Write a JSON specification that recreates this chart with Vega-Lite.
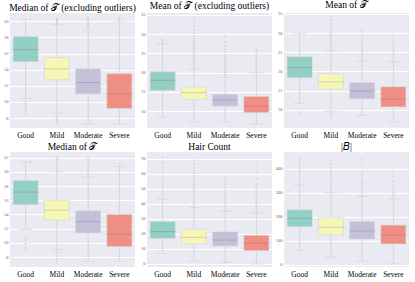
{
"$schema": "https://vega.github.io/schema/vega-lite/v6.json",
"padding": {"left": 3, "top": 0, "right": 2, "bottom": 0},
"bounds": "flush",
"spacing": {"row": 24, "column": 12},
"columns": 3,
"datasets": {
"stats": [
{"p":"p1","g":"Good","lo":10.4,"q1":15.0,"med":16.5,"q3":18.1,"hi":20.3},
{"p":"p1","g":"Mild","lo":8.6,"q1":12.75,"med":14.1,"q3":15.5,"hi":19.6},
{"p":"p1","g":"Moderate","lo":7.3,"q1":11.0,"med":12.4,"q3":14.1,"hi":18.7},
{"p":"p1","g":"Severe","lo":7.3,"q1":9.2,"med":11.0,"q3":13.5,"hi":19.9},
{"p":"p2","g":"Good","lo":8.5,"q1":15.4,"med":18.0,"q3":20.2,"hi":27.5},
{"p":"p2","g":"Mild","lo":7.2,"q1":13.05,"med":14.8,"q3":16.25,"hi":20.9},
{"p":"p2","g":"Moderate","lo":7.2,"q1":11.3,"med":12.9,"q3":14.3,"hi":18.8},
{"p":"p2","g":"Severe","lo":6.7,"q1":9.6,"med":11.3,"q3":13.8,"hi":20.0},
{"p":"p3","g":"Good","lo":11.7,"q1":18.4,"med":21.0,"q3":23.8,"hi":29.9},
{"p":"p3","g":"Mild","lo":9.7,"q1":15.4,"med":17.3,"q3":19.4,"hi":25.3},
{"p":"p3","g":"Moderate","lo":8.6,"q1":12.9,"med":14.9,"q3":17.1,"hi":22.7},
{"p":"p3","g":"Severe","lo":6.9,"q1":10.8,"med":12.8,"q3":16.0,"hi":22.5},
{"p":"p4","g":"Good","lo":11.9,"q1":15.4,"med":17.15,"q3":18.75,"hi":21.4},
{"p":"p4","g":"Mild","lo":9.0,"q1":13.2,"med":14.6,"q3":16.0,"hi":20.05},
{"p":"p4","g":"Moderate","lo":7.4,"q1":11.4,"med":13.0,"q3":14.5,"hi":19.3},
{"p":"p4","g":"Severe","lo":7.4,"q1":9.5,"med":11.2,"q3":14.0,"hi":20.75},
{"p":"p5","g":"Good","lo":7.1,"q1":17.1,"med":21.5,"q3":28.1,"hi":43},
{"p":"p5","g":"Mild","lo":2.0,"q1":13.3,"med":17.7,"q3":23.0,"hi":37.5},
{"p":"p5","g":"Moderate","lo":1.1,"q1":12.0,"med":15.9,"q3":21.3,"hi":35},
{"p":"p5","g":"Severe","lo":0,"q1":8.9,"med":13.8,"q3":19.0,"hi":34},
{"p":"p6","g":"Good","lo":61,"q1":159,"med":194,"q3":229,"hi":333},
{"p":"p6","g":"Mild","lo":31,"q1":124,"med":156,"q3":196,"hi":300},
{"p":"p6","g":"Moderate","lo":15,"q1":107,"med":141,"q3":180,"hi":285},
{"p":"p6","g":"Severe","lo":3,"q1":86.5,"med":124,"q3":165,"hi":273}
],
"out": [
{"p":"p1","g":"Good","v":10.0},{"p":"p1","g":"Good","v":9.7},{"p":"p1","g":"Good","v":9.4},{"p":"p1","g":"Good","v":9.1},{"p":"p1","g":"Good","v":8.8},{"p":"p1","g":"Good","v":8.5},
{"p":"p1","g":"Mild","v":19.8},{"p":"p1","g":"Mild","v":19.9},{"p":"p1","g":"Mild","v":20.0},{"p":"p1","g":"Mild","v":20.1},{"p":"p1","g":"Mild","v":20.2},{"p":"p1","g":"Mild","v":20.3},{"p":"p1","g":"Mild","v":20.4},
{"p":"p1","g":"Mild","v":8.4},{"p":"p1","g":"Mild","v":8.2},{"p":"p1","g":"Mild","v":8.0},{"p":"p1","g":"Mild","v":7.8},{"p":"p1","g":"Mild","v":7.6},{"p":"p1","g":"Mild","v":7.4},
{"p":"p1","g":"Moderate","v":19.0},{"p":"p1","g":"Moderate","v":19.2},{"p":"p1","g":"Moderate","v":19.4},{"p":"p1","g":"Moderate","v":19.6},{"p":"p1","g":"Moderate","v":19.8},{"p":"p1","g":"Moderate","v":20.0},{"p":"p1","g":"Moderate","v":20.2},{"p":"p1","g":"Moderate","v":20.4},
{"p":"p1","g":"Severe","v":20.1},{"p":"p1","g":"Severe","v":20.3},{"p":"p1","g":"Severe","v":20.4},
{"p":"p2","g":"Good","v":27.9},{"p":"p2","g":"Good","v":28.3},{"p":"p2","g":"Good","v":28.7},
{"p":"p2","g":"Mild","v":21.3},{"p":"p2","g":"Mild","v":21.8},{"p":"p2","g":"Mild","v":22.3},{"p":"p2","g":"Mild","v":22.8},{"p":"p2","g":"Mild","v":23.3},{"p":"p2","g":"Mild","v":23.8},{"p":"p2","g":"Mild","v":24.3},{"p":"p2","g":"Mild","v":24.8},{"p":"p2","g":"Mild","v":25.3},{"p":"p2","g":"Mild","v":25.8},{"p":"p2","g":"Mild","v":26.3},{"p":"p2","g":"Mild","v":26.8},{"p":"p2","g":"Mild","v":27.3},{"p":"p2","g":"Mild","v":27.8},{"p":"p2","g":"Mild","v":28.3},{"p":"p2","g":"Mild","v":28.8},{"p":"p2","g":"Mild","v":29.5},{"p":"p2","g":"Mild","v":30.3},{"p":"p2","g":"Mild","v":31.1},{"p":"p2","g":"Mild","v":32.0},{"p":"p2","g":"Mild","v":33.0},{"p":"p2","g":"Mild","v":34.3},
{"p":"p2","g":"Moderate","v":19.2},{"p":"p2","g":"Moderate","v":19.6},{"p":"p2","g":"Moderate","v":20.0},{"p":"p2","g":"Moderate","v":20.5},{"p":"p2","g":"Moderate","v":21.0},{"p":"p2","g":"Moderate","v":21.5},{"p":"p2","g":"Moderate","v":22.0},{"p":"p2","g":"Moderate","v":22.5},{"p":"p2","g":"Moderate","v":23.0},{"p":"p2","g":"Moderate","v":23.5},{"p":"p2","g":"Moderate","v":24.0},{"p":"p2","g":"Moderate","v":24.6},{"p":"p2","g":"Moderate","v":25.3},{"p":"p2","g":"Moderate","v":26.0},{"p":"p2","g":"Moderate","v":27.0},{"p":"p2","g":"Moderate","v":28.0},{"p":"p2","g":"Moderate","v":29.3},
{"p":"p2","g":"Severe","v":20.5},{"p":"p2","g":"Severe","v":21.0},{"p":"p2","g":"Severe","v":21.5},{"p":"p2","g":"Severe","v":22.0},{"p":"p2","g":"Severe","v":22.5},{"p":"p2","g":"Severe","v":23.0},{"p":"p2","g":"Severe","v":23.6},{"p":"p2","g":"Severe","v":24.2},{"p":"p2","g":"Severe","v":25.0},{"p":"p2","g":"Severe","v":25.8},
{"p":"p3","g":"Good","v":9.3},
{"p":"p3","g":"Mild","v":25.8},{"p":"p3","g":"Mild","v":26.3},{"p":"p3","g":"Mild","v":26.8},{"p":"p3","g":"Mild","v":27.3},{"p":"p3","g":"Mild","v":27.8},{"p":"p3","g":"Mild","v":28.3},{"p":"p3","g":"Mild","v":28.8},{"p":"p3","g":"Mild","v":29.3},{"p":"p3","g":"Mild","v":29.8},{"p":"p3","g":"Mild","v":30.4},{"p":"p3","g":"Mild","v":31.0},{"p":"p3","g":"Mild","v":31.7},{"p":"p3","g":"Mild","v":32.5},{"p":"p3","g":"Mild","v":33.3},{"p":"p3","g":"Mild","v":34.2},{"p":"p3","g":"Mild","v":9.2},{"p":"p3","g":"Mild","v":8.6},{"p":"p3","g":"Mild","v":8.0},
{"p":"p3","g":"Moderate","v":23.2},{"p":"p3","g":"Moderate","v":23.7},{"p":"p3","g":"Moderate","v":24.2},{"p":"p3","g":"Moderate","v":24.7},{"p":"p3","g":"Moderate","v":25.2},{"p":"p3","g":"Moderate","v":25.7},{"p":"p3","g":"Moderate","v":26.3},{"p":"p3","g":"Moderate","v":27.0},{"p":"p3","g":"Moderate","v":27.8},{"p":"p3","g":"Moderate","v":28.6},{"p":"p3","g":"Moderate","v":29.5},{"p":"p3","g":"Moderate","v":30.7},
{"p":"p3","g":"Severe","v":23.0},{"p":"p3","g":"Severe","v":23.5},{"p":"p3","g":"Severe","v":24.0},{"p":"p3","g":"Severe","v":24.6},{"p":"p3","g":"Severe","v":25.2},{"p":"p3","g":"Severe","v":25.8},{"p":"p3","g":"Severe","v":26.5},{"p":"p3","g":"Severe","v":27.3},{"p":"p3","g":"Severe","v":28.2},{"p":"p3","g":"Severe","v":29.2},
{"p":"p4","g":"Good","v":10.9},{"p":"p4","g":"Good","v":10.4},{"p":"p4","g":"Good","v":9.9},{"p":"p4","g":"Good","v":9.4},{"p":"p4","g":"Good","v":9.0},
{"p":"p4","g":"Mild","v":20.3},{"p":"p4","g":"Mild","v":20.6},{"p":"p4","g":"Mild","v":20.9},{"p":"p4","g":"Mild","v":21.2},{"p":"p4","g":"Mild","v":21.5},{"p":"p4","g":"Mild","v":21.8},{"p":"p4","g":"Mild","v":22.0},{"p":"p4","g":"Mild","v":8.6},{"p":"p4","g":"Mild","v":8.2},{"p":"p4","g":"Mild","v":7.8},{"p":"p4","g":"Mild","v":7.4},
{"p":"p4","g":"Moderate","v":19.6},{"p":"p4","g":"Moderate","v":19.9},{"p":"p4","g":"Moderate","v":20.2},{"p":"p4","g":"Moderate","v":20.5},{"p":"p4","g":"Moderate","v":20.8},{"p":"p4","g":"Moderate","v":21.1},{"p":"p4","g":"Moderate","v":21.4},{"p":"p4","g":"Moderate","v":21.8},
{"p":"p4","g":"Severe","v":21.1},
{"p":"p5","g":"Good","v":44},{"p":"p5","g":"Good","v":45.5},{"p":"p5","g":"Good","v":47},{"p":"p5","g":"Good","v":48.5},{"p":"p5","g":"Good","v":50},{"p":"p5","g":"Good","v":52},{"p":"p5","g":"Good","v":54},{"p":"p5","g":"Good","v":56},{"p":"p5","g":"Good","v":58},{"p":"p5","g":"Good","v":61},{"p":"p5","g":"Good","v":64},{"p":"p5","g":"Good","v":67},{"p":"p5","g":"Good","v":70.9},
{"p":"p5","g":"Mild","v":38},{"p":"p5","g":"Mild","v":39.5},{"p":"p5","g":"Mild","v":41},{"p":"p5","g":"Mild","v":42.5},{"p":"p5","g":"Mild","v":44},{"p":"p5","g":"Mild","v":45.5},{"p":"p5","g":"Mild","v":47},{"p":"p5","g":"Mild","v":48.5},{"p":"p5","g":"Mild","v":50},{"p":"p5","g":"Mild","v":51.5},{"p":"p5","g":"Mild","v":53},{"p":"p5","g":"Mild","v":54.5},{"p":"p5","g":"Mild","v":56},{"p":"p5","g":"Mild","v":58},{"p":"p5","g":"Mild","v":60},{"p":"p5","g":"Mild","v":62},{"p":"p5","g":"Mild","v":64},{"p":"p5","g":"Mild","v":66},{"p":"p5","g":"Mild","v":69},
{"p":"p5","g":"Moderate","v":35.5},{"p":"p5","g":"Moderate","v":37},{"p":"p5","g":"Moderate","v":38.5},{"p":"p5","g":"Moderate","v":40},{"p":"p5","g":"Moderate","v":41.5},{"p":"p5","g":"Moderate","v":43},{"p":"p5","g":"Moderate","v":44.5},{"p":"p5","g":"Moderate","v":46},{"p":"p5","g":"Moderate","v":47.5},{"p":"p5","g":"Moderate","v":49},{"p":"p5","g":"Moderate","v":51},{"p":"p5","g":"Moderate","v":53},{"p":"p5","g":"Moderate","v":55},{"p":"p5","g":"Moderate","v":57.6},
{"p":"p5","g":"Severe","v":35},{"p":"p5","g":"Severe","v":36.5},{"p":"p5","g":"Severe","v":38},{"p":"p5","g":"Severe","v":39.5},{"p":"p5","g":"Severe","v":41},{"p":"p5","g":"Severe","v":42.5},{"p":"p5","g":"Severe","v":44},{"p":"p5","g":"Severe","v":46},{"p":"p5","g":"Severe","v":48},{"p":"p5","g":"Severe","v":50},{"p":"p5","g":"Severe","v":53},{"p":"p5","g":"Severe","v":57},{"p":"p5","g":"Severe","v":61},{"p":"p5","g":"Severe","v":65.8},
{"p":"p6","g":"Good","v":345},{"p":"p6","g":"Good","v":355},{"p":"p6","g":"Good","v":365},{"p":"p6","g":"Good","v":375},{"p":"p6","g":"Good","v":385},{"p":"p6","g":"Good","v":395},{"p":"p6","g":"Good","v":405},{"p":"p6","g":"Good","v":420},{"p":"p6","g":"Good","v":432},{"p":"p6","g":"Good","v":444},
{"p":"p6","g":"Mild","v":305},{"p":"p6","g":"Mild","v":315},{"p":"p6","g":"Mild","v":325},{"p":"p6","g":"Mild","v":335},{"p":"p6","g":"Mild","v":345},{"p":"p6","g":"Mild","v":355},{"p":"p6","g":"Mild","v":365},{"p":"p6","g":"Mild","v":375},{"p":"p6","g":"Mild","v":385},{"p":"p6","g":"Mild","v":395},{"p":"p6","g":"Mild","v":405},{"p":"p6","g":"Mild","v":420},{"p":"p6","g":"Mild","v":437},
{"p":"p6","g":"Moderate","v":290},{"p":"p6","g":"Moderate","v":300},{"p":"p6","g":"Moderate","v":310},{"p":"p6","g":"Moderate","v":320},{"p":"p6","g":"Moderate","v":330},{"p":"p6","g":"Moderate","v":340},{"p":"p6","g":"Moderate","v":350},{"p":"p6","g":"Moderate","v":360},{"p":"p6","g":"Moderate","v":375},{"p":"p6","g":"Moderate","v":390},{"p":"p6","g":"Moderate","v":410},{"p":"p6","g":"Moderate","v":440},
{"p":"p6","g":"Severe","v":280},{"p":"p6","g":"Severe","v":290},{"p":"p6","g":"Severe","v":300},{"p":"p6","g":"Severe","v":310},{"p":"p6","g":"Severe","v":320},{"p":"p6","g":"Severe","v":335},{"p":"p6","g":"Severe","v":350},{"p":"p6","g":"Severe","v":370},{"p":"p6","g":"Severe","v":389}
]
},
"concat": [
{"title": "Median of 𝒯 (excluding outliers)", "width": 125, "height": 115,
 "layer": [
  {"data": {"name": "stats"}, "transform": [{"filter": "datum.p === 'p1'"}], "mark": {"type": "rule", "color": "#d4d4dc", "strokeWidth": 1},
   "encoding": {"x": {"field": "g", "type": "nominal", "sort": ["Good","Mild","Moderate","Severe"], "scale": {"paddingInner": 0.2, "paddingOuter": 0.1}, "title": null},
    "y": {"field": "lo", "type": "quantitative", "scale": {"domain": [6.76, 21.04], "nice": false, "zero": false}, "axis": {"values": [8,10,12,14,16,18,20], "tickCount": 20}, "title": null}, "y2": {"field": "hi"}}},
  {"data": {"name": "stats"}, "transform": [{"filter": "datum.p === 'p1'"}], "mark": {"type": "tick", "color": "#d4d4dc", "size": 12.5, "thickness": 1},
   "encoding": {"x": {"field": "g", "type": "nominal", "sort": ["Good","Mild","Moderate","Severe"]}, "y": {"field": "lo", "type": "quantitative", "title": null}}},
  {"data": {"name": "stats"}, "transform": [{"filter": "datum.p === 'p1'"}], "mark": {"type": "tick", "color": "#d4d4dc", "size": 12.5, "thickness": 1},
   "encoding": {"x": {"field": "g", "type": "nominal", "sort": ["Good","Mild","Moderate","Severe"]}, "y": {"field": "hi", "type": "quantitative", "title": null}}},
  {"data": {"name": "out"}, "transform": [{"filter": "datum.p === 'p1'"}], "mark": {"type": "point", "filled": true, "shape": "diamond", "size": 6, "color": "#d0d0d8", "opacity": 0.8},
   "encoding": {"x": {"field": "g", "type": "nominal", "sort": ["Good","Mild","Moderate","Severe"]}, "y": {"field": "v", "type": "quantitative", "title": null}}},
  {"data": {"name": "stats"}, "transform": [{"filter": "datum.p === 'p1'"}], "mark": {"type": "bar", "stroke": "#d4d4dc", "strokeWidth": 0.6},
   "encoding": {"x": {"field": "g", "type": "nominal", "sort": ["Good","Mild","Moderate","Severe"]}, "y": {"field": "q1", "type": "quantitative", "title": null}, "y2": {"field": "q3"},
    "fill": {"field": "g", "type": "nominal", "scale": {"domain": ["Good","Mild","Moderate","Severe"], "range": ["#93cfc3","#f6f6b6","#c4c0d8","#ef8f84"]}, "legend": null}}},
  {"data": {"name": "stats"}, "transform": [{"filter": "datum.p === 'p1'"}], "mark": {"type": "tick", "color": "#3a3a4a", "opacity": 0.18, "size": 25, "thickness": 1},
   "encoding": {"x": {"field": "g", "type": "nominal", "sort": ["Good","Mild","Moderate","Severe"]}, "y": {"field": "med", "type": "quantitative", "title": null}}}
 ]},
{"title": "Mean of 𝒯 (excluding outliers)", "width": 125, "height": 115,
 "layer": [
  {"data": {"name": "stats"}, "transform": [{"filter": "datum.p === 'p2'"}], "mark": {"type": "rule", "color": "#d4d4dc", "strokeWidth": 1},
   "encoding": {"x": {"field": "g", "type": "nominal", "sort": ["Good","Mild","Moderate","Severe"], "scale": {"paddingInner": 0.2, "paddingOuter": 0.1}, "title": null},
    "y": {"field": "lo", "type": "quantitative", "scale": {"domain": [5.6, 35.5], "nice": false, "zero": false}, "axis": {"values": [10,15,20,25,30,35], "tickCount": 20}, "title": null}, "y2": {"field": "hi"}}},
  {"data": {"name": "stats"}, "transform": [{"filter": "datum.p === 'p2'"}], "mark": {"type": "tick", "color": "#d4d4dc", "size": 12.5, "thickness": 1},
   "encoding": {"x": {"field": "g", "type": "nominal", "sort": ["Good","Mild","Moderate","Severe"]}, "y": {"field": "lo", "type": "quantitative", "title": null}}},
  {"data": {"name": "stats"}, "transform": [{"filter": "datum.p === 'p2'"}], "mark": {"type": "tick", "color": "#d4d4dc", "size": 12.5, "thickness": 1},
   "encoding": {"x": {"field": "g", "type": "nominal", "sort": ["Good","Mild","Moderate","Severe"]}, "y": {"field": "hi", "type": "quantitative", "title": null}}},
  {"data": {"name": "out"}, "transform": [{"filter": "datum.p === 'p2'"}], "mark": {"type": "point", "filled": true, "shape": "diamond", "size": 6, "color": "#d0d0d8", "opacity": 0.8},
   "encoding": {"x": {"field": "g", "type": "nominal", "sort": ["Good","Mild","Moderate","Severe"]}, "y": {"field": "v", "type": "quantitative", "title": null}}},
  {"data": {"name": "stats"}, "transform": [{"filter": "datum.p === 'p2'"}], "mark": {"type": "bar", "stroke": "#d4d4dc", "strokeWidth": 0.6},
   "encoding": {"x": {"field": "g", "type": "nominal", "sort": ["Good","Mild","Moderate","Severe"]}, "y": {"field": "q1", "type": "quantitative", "title": null}, "y2": {"field": "q3"},
    "fill": {"field": "g", "type": "nominal", "scale": {"domain": ["Good","Mild","Moderate","Severe"], "range": ["#93cfc3","#f6f6b6","#c4c0d8","#ef8f84"]}, "legend": null}}},
  {"data": {"name": "stats"}, "transform": [{"filter": "datum.p === 'p2'"}], "mark": {"type": "tick", "color": "#3a3a4a", "opacity": 0.18, "size": 25, "thickness": 1},
   "encoding": {"x": {"field": "g", "type": "nominal", "sort": ["Good","Mild","Moderate","Severe"]}, "y": {"field": "med", "type": "quantitative", "title": null}}}
 ]},
{"title": "Mean of 𝒯", "width": 125, "height": 115,
 "layer": [
  {"data": {"name": "stats"}, "transform": [{"filter": "datum.p === 'p3'"}], "mark": {"type": "rule", "color": "#d4d4dc", "strokeWidth": 1},
   "encoding": {"x": {"field": "g", "type": "nominal", "sort": ["Good","Mild","Moderate","Severe"], "scale": {"paddingInner": 0.2, "paddingOuter": 0.1}, "title": null},
    "y": {"field": "lo", "type": "quantitative", "scale": {"domain": [5.3, 35.2], "nice": false, "zero": false}, "axis": {"values": [10,15,20,25,30,35], "tickCount": 20}, "title": null}, "y2": {"field": "hi"}}},
  {"data": {"name": "stats"}, "transform": [{"filter": "datum.p === 'p3'"}], "mark": {"type": "tick", "color": "#d4d4dc", "size": 12.5, "thickness": 1},
   "encoding": {"x": {"field": "g", "type": "nominal", "sort": ["Good","Mild","Moderate","Severe"]}, "y": {"field": "lo", "type": "quantitative", "title": null}}},
  {"data": {"name": "stats"}, "transform": [{"filter": "datum.p === 'p3'"}], "mark": {"type": "tick", "color": "#d4d4dc", "size": 12.5, "thickness": 1},
   "encoding": {"x": {"field": "g", "type": "nominal", "sort": ["Good","Mild","Moderate","Severe"]}, "y": {"field": "hi", "type": "quantitative", "title": null}}},
  {"data": {"name": "out"}, "transform": [{"filter": "datum.p === 'p3'"}], "mark": {"type": "point", "filled": true, "shape": "diamond", "size": 6, "color": "#d0d0d8", "opacity": 0.8},
   "encoding": {"x": {"field": "g", "type": "nominal", "sort": ["Good","Mild","Moderate","Severe"]}, "y": {"field": "v", "type": "quantitative", "title": null}}},
  {"data": {"name": "stats"}, "transform": [{"filter": "datum.p === 'p3'"}], "mark": {"type": "bar", "stroke": "#d4d4dc", "strokeWidth": 0.6},
   "encoding": {"x": {"field": "g", "type": "nominal", "sort": ["Good","Mild","Moderate","Severe"]}, "y": {"field": "q1", "type": "quantitative", "title": null}, "y2": {"field": "q3"},
    "fill": {"field": "g", "type": "nominal", "scale": {"domain": ["Good","Mild","Moderate","Severe"], "range": ["#93cfc3","#f6f6b6","#c4c0d8","#ef8f84"]}, "legend": null}}},
  {"data": {"name": "stats"}, "transform": [{"filter": "datum.p === 'p3'"}], "mark": {"type": "tick", "color": "#3a3a4a", "opacity": 0.18, "size": 25, "thickness": 1},
   "encoding": {"x": {"field": "g", "type": "nominal", "sort": ["Good","Mild","Moderate","Severe"]}, "y": {"field": "med", "type": "quantitative", "title": null}}}
 ]},
{"title": "Median of 𝒯", "width": 125, "height": 115,
 "layer": [
  {"data": {"name": "stats"}, "transform": [{"filter": "datum.p === 'p4'"}], "mark": {"type": "rule", "color": "#d4d4dc", "strokeWidth": 1},
   "encoding": {"x": {"field": "g", "type": "nominal", "sort": ["Good","Mild","Moderate","Severe"], "scale": {"paddingInner": 0.2, "paddingOuter": 0.1}, "title": null},
    "y": {"field": "lo", "type": "quantitative", "scale": {"domain": [6.6, 22.8], "nice": false, "zero": false}, "axis": {"values": [8,10,12,14,16,18,20,22], "tickCount": 20}, "title": null}, "y2": {"field": "hi"}}},
  {"data": {"name": "stats"}, "transform": [{"filter": "datum.p === 'p4'"}], "mark": {"type": "tick", "color": "#d4d4dc", "size": 12.5, "thickness": 1},
   "encoding": {"x": {"field": "g", "type": "nominal", "sort": ["Good","Mild","Moderate","Severe"]}, "y": {"field": "lo", "type": "quantitative", "title": null}}},
  {"data": {"name": "stats"}, "transform": [{"filter": "datum.p === 'p4'"}], "mark": {"type": "tick", "color": "#d4d4dc", "size": 12.5, "thickness": 1},
   "encoding": {"x": {"field": "g", "type": "nominal", "sort": ["Good","Mild","Moderate","Severe"]}, "y": {"field": "hi", "type": "quantitative", "title": null}}},
  {"data": {"name": "out"}, "transform": [{"filter": "datum.p === 'p4'"}], "mark": {"type": "point", "filled": true, "shape": "diamond", "size": 6, "color": "#d0d0d8", "opacity": 0.8},
   "encoding": {"x": {"field": "g", "type": "nominal", "sort": ["Good","Mild","Moderate","Severe"]}, "y": {"field": "v", "type": "quantitative", "title": null}}},
  {"data": {"name": "stats"}, "transform": [{"filter": "datum.p === 'p4'"}], "mark": {"type": "bar", "stroke": "#d4d4dc", "strokeWidth": 0.6},
   "encoding": {"x": {"field": "g", "type": "nominal", "sort": ["Good","Mild","Moderate","Severe"]}, "y": {"field": "q1", "type": "quantitative", "title": null}, "y2": {"field": "q3"},
    "fill": {"field": "g", "type": "nominal", "scale": {"domain": ["Good","Mild","Moderate","Severe"], "range": ["#93cfc3","#f6f6b6","#c4c0d8","#ef8f84"]}, "legend": null}}},
  {"data": {"name": "stats"}, "transform": [{"filter": "datum.p === 'p4'"}], "mark": {"type": "tick", "color": "#3a3a4a", "opacity": 0.18, "size": 25, "thickness": 1},
   "encoding": {"x": {"field": "g", "type": "nominal", "sort": ["Good","Mild","Moderate","Severe"]}, "y": {"field": "med", "type": "quantitative", "title": null}}}
 ]},
{"title": "Hair Count", "width": 125, "height": 115,
 "layer": [
  {"data": {"name": "stats"}, "transform": [{"filter": "datum.p === 'p5'"}], "mark": {"type": "rule", "color": "#d4d4dc", "strokeWidth": 1},
   "encoding": {"x": {"field": "g", "type": "nominal", "sort": ["Good","Mild","Moderate","Severe"], "scale": {"paddingInner": 0.2, "paddingOuter": 0.1}, "title": null},
    "y": {"field": "lo", "type": "quantitative", "scale": {"domain": [-2, 74.4], "nice": false, "zero": false}, "axis": {"values": [0,10,20,30,40,50,60,70], "tickCount": 20}, "title": null}, "y2": {"field": "hi"}}},
  {"data": {"name": "stats"}, "transform": [{"filter": "datum.p === 'p5'"}], "mark": {"type": "tick", "color": "#d4d4dc", "size": 12.5, "thickness": 1},
   "encoding": {"x": {"field": "g", "type": "nominal", "sort": ["Good","Mild","Moderate","Severe"]}, "y": {"field": "lo", "type": "quantitative", "title": null}}},
  {"data": {"name": "stats"}, "transform": [{"filter": "datum.p === 'p5'"}], "mark": {"type": "tick", "color": "#d4d4dc", "size": 12.5, "thickness": 1},
   "encoding": {"x": {"field": "g", "type": "nominal", "sort": ["Good","Mild","Moderate","Severe"]}, "y": {"field": "hi", "type": "quantitative", "title": null}}},
  {"data": {"name": "out"}, "transform": [{"filter": "datum.p === 'p5'"}], "mark": {"type": "point", "filled": true, "shape": "diamond", "size": 6, "color": "#d0d0d8", "opacity": 0.8},
   "encoding": {"x": {"field": "g", "type": "nominal", "sort": ["Good","Mild","Moderate","Severe"]}, "y": {"field": "v", "type": "quantitative", "title": null}}},
  {"data": {"name": "stats"}, "transform": [{"filter": "datum.p === 'p5'"}], "mark": {"type": "bar", "stroke": "#d4d4dc", "strokeWidth": 0.6},
   "encoding": {"x": {"field": "g", "type": "nominal", "sort": ["Good","Mild","Moderate","Severe"]}, "y": {"field": "q1", "type": "quantitative", "title": null}, "y2": {"field": "q3"},
    "fill": {"field": "g", "type": "nominal", "scale": {"domain": ["Good","Mild","Moderate","Severe"], "range": ["#93cfc3","#f6f6b6","#c4c0d8","#ef8f84"]}, "legend": null}}},
  {"data": {"name": "stats"}, "transform": [{"filter": "datum.p === 'p5'"}], "mark": {"type": "tick", "color": "#3a3a4a", "opacity": 0.18, "size": 25, "thickness": 1},
   "encoding": {"x": {"field": "g", "type": "nominal", "sort": ["Good","Mild","Moderate","Severe"]}, "y": {"field": "med", "type": "quantitative", "title": null}}}
 ]},
{"title": "|𝐵|", "width": 125, "height": 115,
 "layer": [
  {"data": {"name": "stats"}, "transform": [{"filter": "datum.p === 'p6'"}], "mark": {"type": "rule", "color": "#d4d4dc", "strokeWidth": 1},
   "encoding": {"x": {"field": "g", "type": "nominal", "sort": ["Good","Mild","Moderate","Severe"], "scale": {"paddingInner": 0.2, "paddingOuter": 0.1}, "title": null},
    "y": {"field": "lo", "type": "quantitative", "scale": {"domain": [-10, 471], "nice": false, "zero": false}, "axis": {"values": [0,100,200,300,400], "tickCount": 20}, "title": null}, "y2": {"field": "hi"}}},
  {"data": {"name": "stats"}, "transform": [{"filter": "datum.p === 'p6'"}], "mark": {"type": "tick", "color": "#d4d4dc", "size": 12.5, "thickness": 1},
   "encoding": {"x": {"field": "g", "type": "nominal", "sort": ["Good","Mild","Moderate","Severe"]}, "y": {"field": "lo", "type": "quantitative", "title": null}}},
  {"data": {"name": "stats"}, "transform": [{"filter": "datum.p === 'p6'"}], "mark": {"type": "tick", "color": "#d4d4dc", "size": 12.5, "thickness": 1},
   "encoding": {"x": {"field": "g", "type": "nominal", "sort": ["Good","Mild","Moderate","Severe"]}, "y": {"field": "hi", "type": "quantitative", "title": null}}},
  {"data": {"name": "out"}, "transform": [{"filter": "datum.p === 'p6'"}], "mark": {"type": "point", "filled": true, "shape": "diamond", "size": 6, "color": "#d0d0d8", "opacity": 0.8},
   "encoding": {"x": {"field": "g", "type": "nominal", "sort": ["Good","Mild","Moderate","Severe"]}, "y": {"field": "v", "type": "quantitative", "title": null}}},
  {"data": {"name": "stats"}, "transform": [{"filter": "datum.p === 'p6'"}], "mark": {"type": "bar", "stroke": "#d4d4dc", "strokeWidth": 0.6},
   "encoding": {"x": {"field": "g", "type": "nominal", "sort": ["Good","Mild","Moderate","Severe"]}, "y": {"field": "q1", "type": "quantitative", "title": null}, "y2": {"field": "q3"},
    "fill": {"field": "g", "type": "nominal", "scale": {"domain": ["Good","Mild","Moderate","Severe"], "range": ["#93cfc3","#f6f6b6","#c4c0d8","#ef8f84"]}, "legend": null}}},
  {"data": {"name": "stats"}, "transform": [{"filter": "datum.p === 'p6'"}], "mark": {"type": "tick", "color": "#3a3a4a", "opacity": 0.18, "size": 25, "thickness": 1},
   "encoding": {"x": {"field": "g", "type": "nominal", "sort": ["Good","Mild","Moderate","Severe"]}, "y": {"field": "med", "type": "quantitative", "title": null}}}
 ]}
],
"config": {
 "view": {"fill": "#eaeaf2", "stroke": null},
 "font": "Liberation Serif, Times New Roman, serif",
 "title": {"font": "Liberation Serif, Times New Roman, serif", "fontSize": 9.5, "fontWeight": "normal", "color": "#000000", "offset": 1, "frame": "group"},
 "axisX": {"labelFont": "Liberation Serif, Times New Roman, serif", "labelFontSize": 7.5, "labelColor": "#000000", "labelAngle": 0, "ticks": false, "domain": false, "grid": false, "labelPadding": 3},
 "axisY": {"labelFont": "Liberation Serif, Times New Roman, serif", "labelFontSize": 4.5, "labelColor": "#666666", "ticks": false, "domain": false, "grid": true, "gridColor": "#ffffff", "gridWidth": 1, "gridOpacity": 1, "labelPadding": 2, "labelOverlap": false}
}
}
